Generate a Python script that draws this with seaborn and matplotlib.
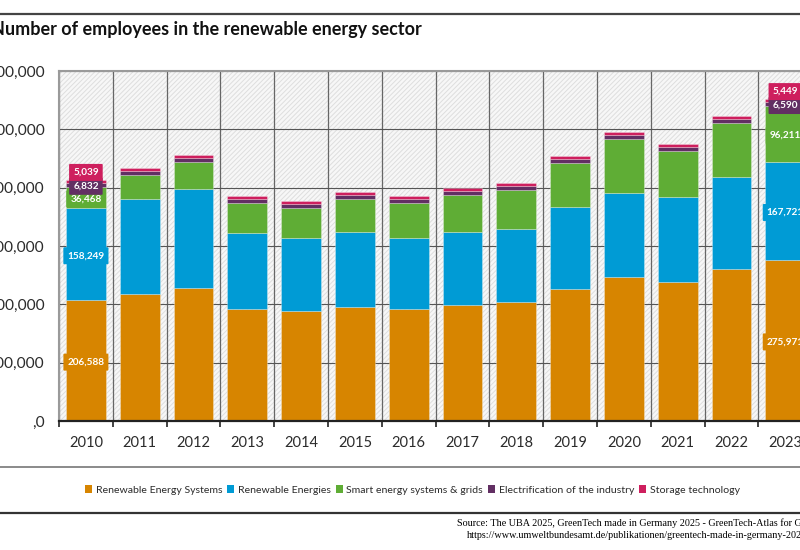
# Employees in the renewable energy sector, stacked bars

import numpy as np
import matplotlib
matplotlib.use("Agg")
import matplotlib.pyplot as plt
import seaborn as sns
from matplotlib.lines import Line2D
from matplotlib.patches import Patch, Rectangle
from matplotlib.ticker import FixedLocator

# ------------------------------------------------------------
# DATA
# ------------------------------------------------------------
YEARS = ["2010", "2011", "2012", "2013", "2014", "2015", "2016",
         "2017", "2018", "2019", "2020", "2021", "2022", "2023"]

RE_SYSTEMS = [206588, 218000, 228000, 192000, 189000, 195000, 192000,
              199000, 204000, 226000, 247000, 238000, 260000, 275971]
RE_ENERGIES = [158249, 163000, 170000, 130000, 125000, 129000, 122000,
               125000, 125000, 141000, 144000, 146000, 158000, 167721]
SMART_GRIDS = [36468, 41000, 46000, 52000, 52000, 57000, 60000,
               64000, 67000, 75000, 93000, 79000, 93000, 96211]
ELECTRIFICATION = [6832, 7000, 7000, 6500, 6500, 6500, 6500,
                   6500, 6500, 6500, 6500, 6500, 6500, 6590]
STORAGE = [5039, 5000, 5000, 5000, 5000, 5000, 5000,
           5500, 5500, 5500, 5500, 5500, 5500, 5449]

SERIES_NAMES = ["Renewable Energy Systems", "Renewable Energies",
                "Smart energy systems & grids",
                "Electrification of the industry", "Storage technology"]
SERIES_VALUES = [RE_SYSTEMS, RE_ENERGIES, SMART_GRIDS, ELECTRIFICATION, STORAGE]
COLORS = ["#D78500", "#009BD5", "#5FAD35", "#622F63", "#CE1F5E"]

Y_TICKS = [0, 100000, 200000, 300000, 400000, 500000, 600000]
Y_LABELS = [",0", "100,000", "200,000", "300,000", "400,000", "500,000", "600,000"]
LABELLED_YEARS = [0, 13]

TITLE = "Number of employees in the renewable energy sector"
SOURCE_1 = "Source: The UBA 2025, GreenTech made in Germany 2025 - GreenTech-Atlas for Germany"
SOURCE_2 = "https://www.umweltbundesamt.de/publikationen/greentech-made-in-germany-2025"

# ------------------------------------------------------------
# STYLE
# ------------------------------------------------------------
sns.set_theme(style="white")
plt.rcParams["font.family"] = ["Lato", "DejaVu Sans"]
plt.rcParams["hatch.linewidth"] = 0.7

W, H = 800, 550
TEXT_COLOR = "#2b2b2b"

fig = plt.figure(figsize=(W / 100, H / 100), dpi=100)
# plot area runs past the right edge, the reference is cropped there
ax = fig.add_axes([59 / W, (H - 421) / H, 14 * 53.8 / W, 350 / H])

# ------------------------------------------------------------
# BARS
# ------------------------------------------------------------
bottom = np.zeros(len(YEARS))
for name, vals, col in zip(SERIES_NAMES, SERIES_VALUES, COLORS):
    sns.barplot(x=YEARS, y=vals, bottom=bottom, color=col, saturation=1,
                width=0.74, edgecolor="#ffffff55", linewidth=0.6, ax=ax)
    bottom = bottom + np.array(vals)

ax.set_xlim(-0.5, 13.5)
ax.set_ylim(0, 600000)
ax.set_axisbelow(True)

# hatched plot background
ax.add_patch(Rectangle((0, 0), 1, 1, transform=ax.transAxes, facecolor="#f7f7f7",
                       edgecolor="#dedede", hatch="///////", linewidth=0, zorder=0))

# ------------------------------------------------------------
# AXES
# ------------------------------------------------------------
ax.set_yticks(Y_TICKS)
ax.set_yticklabels(Y_LABELS, fontsize=11.2, color=TEXT_COLOR)
ax.set_xticks(range(len(YEARS)))
ax.set_xticklabels(YEARS, fontsize=10.5, color=TEXT_COLOR)
ax.xaxis.set_minor_locator(FixedLocator(np.arange(-0.5, 14, 1)))
ax.tick_params(axis="x", which="major", length=0, pad=10.5)
ax.tick_params(axis="x", which="minor", length=4, width=1.2, color="#222222", bottom=True)
ax.tick_params(axis="y", length=0, pad=10.5)
ax.grid(axis="y", color="#555555", linewidth=0.8)
ax.grid(axis="x", which="minor", color="#666666", linewidth=0.9)
ax.set_xlabel("")
ax.set_ylabel("")

for side in ["top", "left", "right"]:
    ax.spines[side].set_color("#9a9a9a")
    ax.spines[side].set_linewidth(1.5)
ax.spines["bottom"].set_color("#222222")
ax.spines["bottom"].set_linewidth(1.6)

# ------------------------------------------------------------
# VALUE LABELS (only first and last year)
# ------------------------------------------------------------
for i in LABELLED_YEARS:
    base = 0
    for s, (vals, col) in enumerate(zip(SERIES_VALUES, COLORS)):
        # storage box gets pushed up so it does not sit on the purple one
        shift = 6.5 if s == 4 else -1
        ax.annotate(f"{vals[i]:,}", (i, base + vals[i] / 2), xytext=(0, shift),
                    textcoords="offset points", ha="center", va="center",
                    fontsize=7.2, fontweight="bold", color="white", zorder=6,
                    bbox=dict(boxstyle="round,pad=0.4,rounding_size=0.1",
                              facecolor=col, edgecolor="none"))
        base += vals[i]

# ------------------------------------------------------------
# FRAME, TITLE, LEGEND, SOURCE
# ------------------------------------------------------------
for y, col, lw in [(14, "#444444", 1.6), (467, "#8a8a8a", 1.4), (513, "#333333", 1.6)]:
    fig.add_artist(Line2D([0, 1], [(H - y) / H] * 2, color=col, linewidth=lw,
                          transform=fig.transFigure))

fig.text(-9 / W, (H - 29) / H, TITLE, fontsize=13, fontweight="bold",
         color="#111111", ha="left", va="center")

handles = [Patch(facecolor=c, edgecolor="none", label=n)
           for n, c in zip(SERIES_NAMES, COLORS)]
fig.legend(handles=handles, loc="center", bbox_to_anchor=(412.5 / W, (H - 490) / H),
           ncol=5, frameon=False, fontsize=7.55, labelcolor=TEXT_COLOR,
           handlelength=0.65, handleheight=0.8, handletextpad=0.35,
           columnspacing=0.5, borderpad=0, borderaxespad=0)

fig.text(457 / W, (H - 523) / H, SOURCE_1, fontsize=7.25,
         family="Liberation Serif", color="#000000", ha="left", va="center")
fig.text(467 / W, (H - 536) / H, SOURCE_2, fontsize=7.25,
         family="Liberation Serif", color="#000000", ha="left", va="center")

fig.savefig("out.png", dpi=100)
